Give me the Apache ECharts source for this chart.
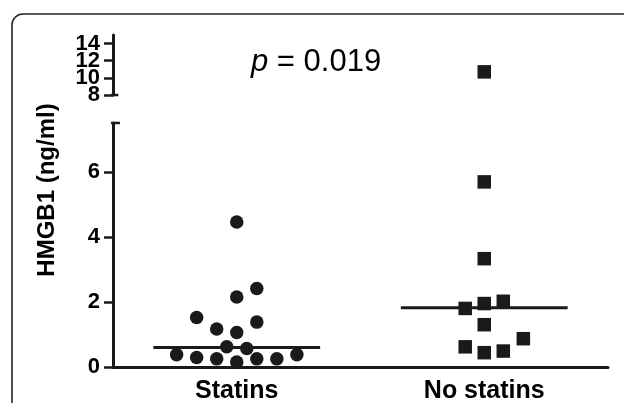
<!DOCTYPE html>
<html>
<head>
<meta charset="utf-8">
<script src="https://cdn.jsdelivr.net/npm/echarts@6/dist/echarts.min.js"></script>
<style>
html,body{margin:0;padding:0;background:#fff;}
#chart{width:624px;height:403px;}
</style>
</head>
<body>
<div id="chart"></div>
<script>
// ---- data ----
var categories = ['Statins', 'No statins'];
var statinsValues = [4.46, 2.15, 2.41, 1.52, 1.17, 1.06, 1.38, 0.62, 0.57, 0.38, 0.29, 0.25, 0.15, 0.25, 0.25, 0.38];
var statinsJitter = [0, 0, 1, -2, -1, 0, 1, -0.5, 0.5, -3, -2, -1, 0, 1, 2, 3];
var noStatinsValues = [10.7, 5.69, 3.33, 1.80, 1.95, 2.02, 1.30, 0.87, 0.62, 0.44, 0.49];
var noStatinsJitter = [0, 0, 0, -0.95, 0, 0.95, 0, 1.95, -0.95, 0, 0.95];
var medians = [0.6, 1.82];
var lowerTicks = [0, 2, 4, 6];
var upperTicks = [8, 10, 12, 14];
var pText = '0.019';

// ---- layout constants ----
var JSTEP = 0.081;      // jitter step, in category widths
var MEDIAN_HALF = 0.337;
var LOWER_MAX = 7.5, UPPER_MIN = 8, UPPER_MAX = 15;
var INK = '#1a1a1a';

function pts(values, jitter, catIdx, keep) {
  var out = [];
  for (var i = 0; i < values.length; i++) {
    if (keep(values[i])) out.push([catIdx + 0.5 + jitter[i] * JSTEP, values[i]]);
  }
  return out;
}
var isLower = function (v) { return v <= LOWER_MAX; };
var isUpper = function (v) { return v > LOWER_MAX; };

function yAxisCfg(grid, min, max, ticks, showLine) {
  return {
    type: 'value', gridIndex: grid, position: 'left', offset: 0, min: min, max: max, interval: 2,
    splitLine: { show: false },
    axisLine: { show: showLine, onZero: false, lineStyle: { color: INK, width: 3 } },
    axisTick: { show: true, interval: 0, length: 9, lineStyle: { color: INK, width: 2.5 }, customValues: ticks },
    axisLabel: {
      interval: 0, margin: 13, customValues: ticks, hideOverlap: false,
      fontFamily: 'Liberation Sans', fontWeight: 'bold', fontSize: 22, color: '#000', lineHeight: 16
    }
  };
}
// the upper segment's labels are packed tightly; split them over two coincident axes
var upperA = upperTicks.filter(function (v, i) { return i % 2 === 0; });
var upperB = upperTicks.filter(function (v, i) { return i % 2 === 1; });

var option = {
  animation: false,
  backgroundColor: '#fff',
  title: {
    text: '{i|p} = ' + pText,
    left: 251, top: 47, padding: 0,
    textStyle: {
      fontFamily: 'Liberation Sans', fontWeight: 'normal', fontSize: 31, color: '#000',
      rich: { i: { fontFamily: 'Liberation Sans', fontStyle: 'italic', fontSize: 31, color: '#000' } }
    }
  },
  graphic: [
    { type: 'rect', shape: { x: 12, y: 14, width: 700, height: 500, r: 11 },
      style: { fill: 'none', stroke: '#222', lineWidth: 1.6 }, silent: true },
    { type: 'text', x: 47, y: 190, rotation: Math.PI / 2,
      style: { text: 'HMGB1 (ng/ml)', fontFamily: 'Liberation Sans', fontWeight: 'bold', fontSize: 24,
               fill: '#000', align: 'center', verticalAlign: 'middle' } }
  ],
  grid: [
    { left: 113, right: 16, top: 123, bottom: 36, outerBoundsMode: 'none' },
    { left: 113, right: 16, top: 35, height: 60, outerBoundsMode: 'none' }
  ],
  xAxis: [
    { type: 'category', gridIndex: 0, data: categories, boundaryGap: true,
      axisLine: { lineStyle: { color: INK, width: 3 } },
      axisTick: { alignWithLabel: true, length: 8, lineStyle: { color: INK, width: 2.5 } },
      axisLabel: { margin: 12, fontFamily: 'Liberation Sans', fontWeight: 'bold', fontSize: 25, color: '#000' },
      splitLine: { show: false } },
    { type: 'value', gridIndex: 0, min: 0, max: 2, show: false },
    { type: 'value', gridIndex: 1, min: 0, max: 2, show: false }
  ],
  yAxis: [
    yAxisCfg(0, 0, LOWER_MAX, lowerTicks, true),
    yAxisCfg(1, UPPER_MIN, UPPER_MAX, upperA, true),
    yAxisCfg(1, UPPER_MIN, UPPER_MAX, upperB, false)
  ],
  series: [
    { type: 'scatter', xAxisIndex: 1, yAxisIndex: 0, symbol: 'circle', symbolSize: 13.5,
      itemStyle: { color: INK, opacity: 1 }, data: pts(statinsValues, statinsJitter, 0, isLower) },
    { type: 'scatter', xAxisIndex: 1, yAxisIndex: 0, symbol: 'rect', symbolSize: 13.5,
      itemStyle: { color: INK, opacity: 1 }, data: pts(noStatinsValues, noStatinsJitter, 1, isLower) },
    { type: 'scatter', xAxisIndex: 2, yAxisIndex: 1, symbol: 'rect', symbolSize: 13.5,
      itemStyle: { color: INK, opacity: 1 }, data: pts(noStatinsValues, noStatinsJitter, 1, isUpper) },
    { type: 'line', xAxisIndex: 1, yAxisIndex: 0, symbol: 'none', lineStyle: { color: INK, width: 3 },
      data: [[0.5 - MEDIAN_HALF, medians[0]], [0.5 + MEDIAN_HALF, medians[0]]] },
    { type: 'line', xAxisIndex: 1, yAxisIndex: 0, symbol: 'none', lineStyle: { color: INK, width: 3 },
      data: [[1.5 - MEDIAN_HALF, medians[1]], [1.5 + MEDIAN_HALF, medians[1]]] },
    // axis-break caps
    { type: 'line', xAxisIndex: 1, yAxisIndex: 0, symbol: 'none', clip: false,
      lineStyle: { color: INK, width: 2.5 }, data: [[-0.02, LOWER_MAX], [0.028, LOWER_MAX]] },
    { type: 'line', xAxisIndex: 2, yAxisIndex: 1, symbol: 'none', clip: false,
      lineStyle: { color: INK, width: 2.5 }, data: [[-0.02, UPPER_MIN], [0.022, UPPER_MIN]] }
  ]
};

var chart = echarts.init(document.getElementById('chart'), null, { renderer: 'canvas' });
chart.setOption(option);
</script>
</body>
</html>
